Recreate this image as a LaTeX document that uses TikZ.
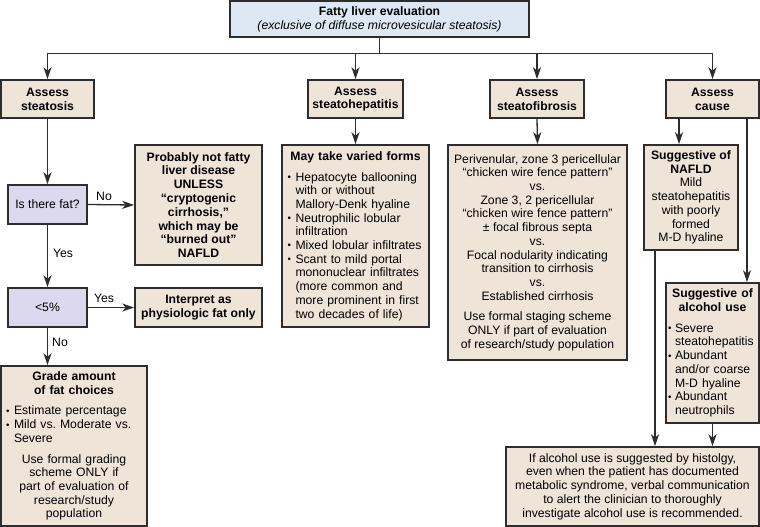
\documentclass[tikz,border=0pt]{standalone}
\usepackage{fontspec}
\usepackage{graphicx}
\setmainfont{Liberation Sans}
\usetikzlibrary{arrows.meta}
\definecolor{beige}{RGB}{238,229,216}
\definecolor{lav}{RGB}{220,217,238}
\definecolor{topblue}{RGB}{220,232,243}
\definecolor{edge}{RGB}{45,45,45}
\frenchspacing
\newcommand{\bul}{\makebox[8pt][l]{\raisebox{0.6pt}{\scalebox{0.8}{•}}}}
\newcommand{\bitem}{\par\hangindent=8pt\hangafter=1\noindent\bul}
\newcommand{\bulx}{\makebox[7pt][l]{\raisebox{0.6pt}{\scalebox{0.8}{•}}}}
\newcommand{\bitemx}{\par\hangindent=7pt\hangafter=1\noindent\bulx}
\tikzset{
  box/.style={draw=edge, line width=1.6pt, fill=beige, inner sep=0pt,
    font=\fontsize{12.2}{13.7}\selectfont},
  bx/.style={box, align=center},
  bbx/.style={box, align=center, font=\fontsize{12.2}{13.8}\selectfont\bfseries},
  arr/.style={draw=edge, line width=1.3pt, -{Stealth[length=12pt,width=8pt,inset=3.5pt]}},
  lbl/.style={font=\fontsize{12.2}{13.7}\selectfont, inner sep=0pt}
}
\begin{document}
\begin{tikzpicture}[x=1pt,y=-1pt]
\useasboundingbox (0,0) rectangle (760,527);
\fill[white] (0,0) rectangle (760,527);

\node[bx, fill=topblue, minimum width=299pt, minimum height=36pt] (top) at (379.5,19)
  {\textbf{Fatty liver evaluation}\\ \textit{(exclusive of diffuse microvesicular steatosis)}};

\node[bbx, minimum width=93pt, minimum height=38pt] (a1) at (47.5,99) {Assess\\ steatosis};
\node[bbx, minimum width=95pt, minimum height=38pt] (a2) at (355.5,99) {Assess\\ steatohepatitis};
\node[bbx, minimum width=94pt, minimum height=38pt] (a3) at (537,99) {Assess\\ steatofibrosis};
\node[bbx, minimum width=93pt, minimum height=38pt] (a4) at (712.5,99) {Assess\\ cause};

\node[bx, fill=lav, minimum width=79pt, minimum height=39pt] (fat) at (47.5,204.5) {Is there fat?};
\node[bx, fill=lav, minimum width=79pt, minimum height=39pt] (lt5) at (47.5,307.5) {<5\%};

\node[bbx, minimum width=127pt, minimum height=120pt] (prob) at (198.5,205)
  {Probably not fatty\\ liver disease\\ UNLESS\\ “cryptogenic\\ cirrhosis,”\\ which may be\\ “burned out”\\ NAFLD};
\node[bbx, minimum width=127pt, minimum height=39pt] (interp) at (198.5,307.5)
  {Interpret as\\ physiologic fat only};

\node[box, text width=136pt, minimum width=146pt, minimum height=160pt] (grade) at (74,446)
  {\centering\textbf{Grade amount\\ of fat choices}\par\vspace{7pt}\raggedright
   \bitem Estimate percentage
   \bitem Mild vs. Moderate vs.\newline Severe\par\vspace{7pt}
   \centering Use formal grading\\ scheme ONLY if\\ part of evaluation of\\ research/study\\ population\par};

\node[box, text width=136pt, minimum width=147pt, minimum height=182pt] (may) at (355.5,236)
  {\centering\textbf{May take varied forms}\par\vspace{7pt}\raggedright
   \bitem Hepatocyte ballooning\newline with or without\newline Mallory-Denk hyaline
   \bitem Neutrophilic lobular\newline infiltration
   \bitem Mixed lobular infiltrates
   \bitem Scant to mild portal\newline mononuclear infiltrates\newline (more common and\newline more prominent in first\newline two decades of life)\par};

\node[bx, minimum width=179pt, minimum height=215pt] (fib) at (537.5,252.5)
  {Perivenular, zone 3 pericellular\\ “chicken wire fence pattern”\\ vs.\\ Zone 3, 2 pericellular\\
   “chicken wire fence pattern”\\ ± focal fibrous septa\\ vs.\\ Focal nodularity indicating\\
   transition to cirrhosis\\ vs.\\ Established cirrhosis\\[7pt] Use formal staging scheme\\
   ONLY if part of evaluation\\ of research/study population};

\node[bx, minimum width=94pt, minimum height=105pt] (nafld) at (691,197.5)
  {\textbf{Suggestive of}\\ \textbf{NAFLD}\\ Mild\\ steatohepatitis\\ with poorly\\ formed\\ M-D hyaline};

\node[box, text width=89pt, minimum width=93pt, minimum height=140pt] (alc) at (712.5,353)
  {\centering\textbf{Suggestive of\\ alcohol use}\par\vspace{7pt}\raggedright
   \bitemx Severe\newline steatohepatitis
   \bitemx Abundant\newline and/or coarse\newline M-D hyaline
   \bitemx Abundant\newline neutrophils\par};

\node[bx, minimum width=253pt, minimum height=79pt] (bot) at (632.5,486.5)
  {If alcohol use is suggested by histolgy,\\ even when the patient has documented\\
   metabolic syndrome, verbal communication\\ to alert the clinician to thoroughly\\
   investigate alcohol use is recommended.};

\coordinate (xa) at (679,0);
\coordinate (xb) at (747,0);
\coordinate (xc) at (655,0);

\draw[arr] (top.south) -- ++(0,16) -| (a1.north);
\draw[arr] (top.south) -- ++(0,16) -| (a2.north);
\draw[arr] (top.south) -- ++(0,16) -| (a3.north);
\draw[arr] (top.south) -- ++(0,16) -| (a4.north);

\draw[arr] (a1.south) -- (fat.north);
\draw[arr] (fat.east) -- (prob.west);
\draw[arr] (fat.south) -- (lt5.north);
\draw[arr] (lt5.east) -- (interp.west);
\draw[arr] (lt5.south) -- (lt5.south |- grade.north);
\draw[arr] (a2.south) -- (may.north);
\draw[arr] (a3.south) -- (fib.north);
\draw[arr] (a4.south -| xa) -- (nafld.north -| xa);
\draw[arr] (a4.south -| xb) -- (alc.north -| xb);
\draw[arr] (nafld.south -| xc) -- (bot.north -| xc);
\draw[arr] (alc.south) -- (bot.north -| alc.south);

\node[lbl] (lno1) at (104,196) {No};
\node[lbl] (lyes1) at (63,253) {Yes};
\node[lbl] (lyes2) at (104,298) {Yes};
\node[lbl] (lno2) at (60,342) {No};
\end{tikzpicture}
\end{document}
